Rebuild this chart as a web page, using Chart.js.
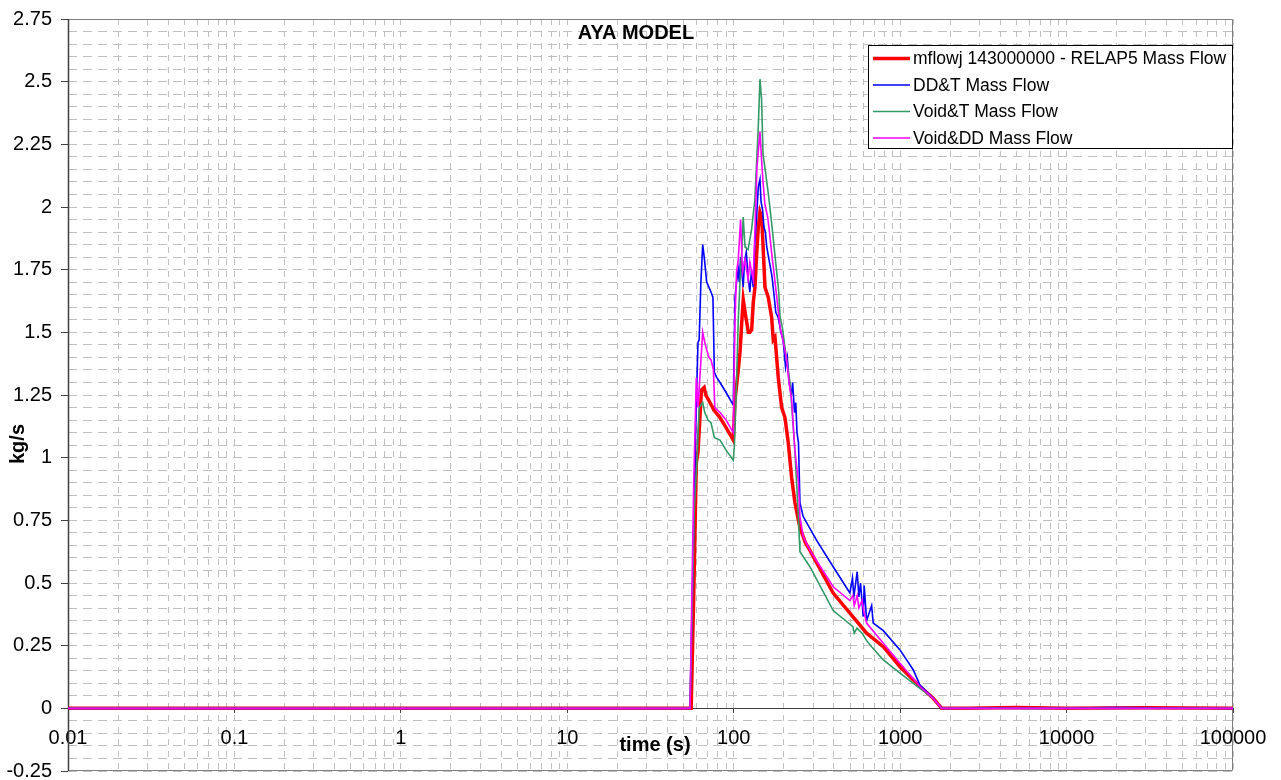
<!DOCTYPE html>
<html>
<head>
<meta charset="utf-8">
<script src="https://cdn.jsdelivr.net/npm/chart.js@4.4.1/dist/chart.umd.min.js"></script>
<style>
  html, body { margin: 0; padding: 0; background: #fff; }
</style>
</head>
<body>
<canvas id="chart" width="1281" height="780"></canvas>
<script>
var chartTitle = 'AYA MODEL';
var xTitle = 'time (s)';
var yTitle = 'kg/s';

var xDecades = [0.01, 0.1, 1, 10, 100, 1000, 10000, 100000];
var xDecadeLabels = ['0.01', '0.1', '1', '10', '100', '1000', '10000', '100000'];
var yMajorTicks = [-0.25, 0, 0.25, 0.5, 0.75, 1, 1.25, 1.5, 1.75, 2, 2.25, 2.5, 2.75];
var yMajorLabels = ['-0.25', '0', '0.25', '0.5', '0.75', '1', '1.25', '1.5', '1.75', '2', '2.25', '2.5', '2.75'];

var seriesLabels = [
    'mflowj 143000000 - RELAP5 Mass Flow',
    'DD&T Mass Flow',
    'Void&T Mass Flow',
    'Void&DD Mass Flow'
];

// RELAP5
var relapTime = [0.01, 55.5, 57.5, 59.6, 61, 62.5, 64, 66.4, 68, 72, 76, 82.7, 90, 99.4, 101.8, 106.5, 109.1, 112, 114.1, 117,
    119.7, 122.4, 125, 128.2, 131.1, 134.2, 137, 140.5, 143.8, 147.2, 150, 154.1, 161.3, 165, 169, 172.8, 177, 185.2, 194.1, 203.2,
    212.7, 222.9, 233.3, 250, 270, 287, 340, 396, 499, 629, 792, 998, 1315, 1581, 1776, 2500, 5000, 10000, 30000, 100000];
var relapFlow = [0, 0, 0.45, 0.98, 1.02, 1.15, 1.27, 1.28, 1.25, 1.22, 1.19, 1.16, 1.12, 1.07, 1.23, 1.35, 1.42, 1.55, 1.63, 1.58,
    1.54, 1.50, 1.50, 1.51, 1.62, 1.68, 1.80, 1.92, 1.98, 1.96, 1.85, 1.68, 1.64, 1.60, 1.56, 1.47, 1.48, 1.32, 1.20, 1.16,
    1.06, 0.92, 0.82, 0.72, 0.66, 0.63, 0.54, 0.46, 0.38, 0.30, 0.246, 0.166, 0.087, 0.04, 0, 0, 0.003, 0, 0.002, 0];

// DD&T
var ddtTime = [0.01, 54.6, 57, 59.5, 61, 62, 63.5, 65.1, 66.5, 68.8, 71, 73.1, 75, 76.5, 79, 82.7, 90, 99.4, 101.8, 104,
    106.5, 108, 110, 112, 114, 116, 119, 122, 125, 128, 131, 134, 137, 140.5, 143.8, 146, 149, 152, 155, 158,
    163, 166, 170, 174, 179, 185, 192, 198, 205, 210, 215, 222, 226, 232, 236, 240, 245, 250, 261.5, 315,
    396, 499, 517, 527, 552, 565, 578, 600, 608, 629, 674, 689, 792, 998, 1200, 1315, 1581, 1776, 3000, 6000, 20000, 100000];
var ddtFlow = [0, 0, 0.6, 1.2, 1.46, 1.47, 1.70, 1.85, 1.80, 1.70, 1.68, 1.66, 1.64, 1.34, 1.32, 1.30, 1.26, 1.21, 1.64, 1.70,
    1.75, 1.70, 1.80, 1.74, 1.68, 1.78, 1.82, 1.72, 1.66, 1.75, 1.68, 1.86, 1.95, 2.08, 2.11, 2.02, 1.99, 1.92, 1.90, 1.84,
    1.79, 1.76, 1.72, 1.66, 1.58, 1.56, 1.50, 1.47, 1.36, 1.40, 1.30, 1.25, 1.30, 1.18, 1.22, 1.10, 1.06, 0.82, 0.765, 0.67,
    0.565, 0.46, 0.52, 0.445, 0.545, 0.445, 0.50, 0.366, 0.49, 0.35, 0.41, 0.34, 0.31, 0.233, 0.153, 0.093, 0.04, 0, 0.002, 0, 0.003, 0];

// Void&T
var voidtTime = [0.01, 54.6, 58, 60.5, 62, 65.1, 67, 70, 73, 76.5, 82.7, 90, 99.4, 101, 104, 106.5, 110, 112, 114, 117,
    122, 128, 134, 140.5, 143.8, 147, 150, 156, 163, 170, 178, 186, 190, 196, 205, 218, 233, 245, 248, 250,
    287, 396, 520, 530, 550, 590, 629, 674, 792, 998, 1315, 1581, 1776, 4000, 100000];
var voidtFlow = [0, 0, 0.8, 1.02, 1.20, 1.22, 1.18, 1.15, 1.14, 1.08, 1.07, 1.03, 0.99, 1.05, 1.30, 1.55, 1.75, 1.83, 1.96, 1.84,
    1.83, 1.91, 2.03, 2.32, 2.51, 2.43, 2.21, 2.13, 2.03, 1.92, 1.79, 1.67, 1.56, 1.52, 1.42, 1.30, 1.03, 0.76, 0.67, 0.625,
    0.565, 0.39, 0.326, 0.30, 0.32, 0.30, 0.27, 0.246, 0.193, 0.14, 0.08, 0.04, 0, 0, 0];

// Void&DD
var voidddTime = [0.01, 54.6, 57.5, 59.6, 61, 63, 65.1, 67, 68.8, 71, 73.1, 75.5, 77, 82.7, 90, 99.4, 101.8, 104, 106.5, 110,
    113, 117, 122, 125, 131, 134, 138, 143.8, 147, 150, 154, 160, 164, 170, 173, 180, 190, 200, 208, 215,
    223, 233, 245, 250, 261.5, 287, 396, 499, 520, 530, 552, 565, 590, 608, 629, 792, 998, 1315, 1581, 1776, 8000, 100000];
var voidddFlow = [0, 0, 0.9, 1.32, 1.20, 1.35, 1.50, 1.46, 1.43, 1.40, 1.39, 1.35, 1.20, 1.18, 1.15, 1.10, 1.55, 1.74, 1.79, 1.95,
    1.74, 1.79, 1.71, 1.78, 1.71, 1.90, 2.16, 2.30, 2.19, 2.10, 2.01, 1.96, 1.90, 1.80, 1.76, 1.66, 1.52, 1.45, 1.39, 1.30,
    1.23, 1.03, 0.90, 0.765, 0.685, 0.63, 0.485, 0.43, 0.45, 0.41, 0.45, 0.40, 0.43, 0.38, 0.34, 0.26, 0.18, 0.087, 0.04, 0, 0, 0];

var fontFamily = "'Liberation Sans', Arial, sans-serif";
Chart.defaults.font.family = fontFamily;

function toPoints(times, flows) {
    return times.map(function(t, i) { return { x: t, y: flows[i] }; });
}

// minor grid: 1..9 per decade, 0.05 steps on y
var xGridValues = [];
xDecades.forEach(function(d, i) {
    if (i == xDecades.length - 1) { xGridValues.push(d); return; }
    for (var k = 1; k < 10; k++) xGridValues.push(+(d * k).toPrecision(6));
});
var yGridValues = [];
yMajorTicks.forEach(function(v, i) {
    if (i == yMajorTicks.length - 1) { yGridValues.push(v); return; }
    for (var k = 0; k < 5; k++) yGridValues.push(+(v + k * 0.05).toFixed(2));
});

function isXMajor(v) { return xDecades.some(function(d) { return Math.abs(d - v) / d < 1e-6; }); }
function isYMajor(v) { return yMajorTicks.some(function(d) { return Math.abs(d - v) < 1e-6; }); }

var frame = {
    id: 'frame',
    beforeDatasetsDraw: function(chart) {
        var ctx = chart.ctx, a = chart.chartArea;
        var y0 = Math.round(chart.scales.y.getPixelForValue(0)) + 0.5;
        ctx.save();
        ctx.lineWidth = 1;
        ctx.strokeStyle = '#808080';
        ctx.beginPath();
        ctx.moveTo(a.left, a.top + 0.5); ctx.lineTo(a.right - 0.5, a.top + 0.5);
        ctx.lineTo(a.right - 0.5, a.bottom - 0.5); ctx.lineTo(a.left, a.bottom - 0.5);
        ctx.stroke();
        ctx.strokeStyle = '#404040';
        ctx.lineWidth = 1.5;
        ctx.beginPath();
        ctx.moveTo(a.left + 0.5, a.top); ctx.lineTo(a.left + 0.5, a.bottom);
        ctx.stroke();
        ctx.lineWidth = 1;
        ctx.beginPath();
        ctx.moveTo(a.left, y0); ctx.lineTo(a.right, y0);
        ctx.stroke();
        ctx.restore();
    },
    afterDraw: function(chart) {
        var ctx = chart.ctx;
        ctx.save();
        ctx.fillStyle = '#000';
        ctx.textAlign = 'center';
        ctx.textBaseline = 'middle';
        ctx.font = 'bold 20px ' + fontFamily;
        ctx.fillText(chartTitle, 636, 33);
        ctx.fillText(xTitle, 655, 745);
        ctx.save();
        ctx.translate(18, 444);
        ctx.rotate(-Math.PI / 2);
        ctx.fillText(yTitle, 0, 0);
        ctx.restore();

        // legend box
        var bx = 868, by = 45, bw = 365, bh = 104;
        ctx.fillStyle = '#fff';
        ctx.fillRect(bx, by, bw, bh);
        ctx.strokeStyle = '#000';
        ctx.lineWidth = 1;
        ctx.strokeRect(bx + 0.5, by + 0.5, bw - 1, bh - 1);
        ctx.font = '17.5px ' + fontFamily;
        ctx.textAlign = 'left';
        chart.data.datasets.forEach(function(ds, i) {
            var yy = 58.5 + i * 26.5;
            ctx.strokeStyle = ds.borderColor;
            ctx.lineWidth = ds.borderWidth;
            ctx.beginPath();
            ctx.moveTo(873, yy); ctx.lineTo(910, yy);
            ctx.stroke();
            ctx.fillStyle = '#000';
            ctx.fillText(ds.label, 913, yy + 1);
        });
        ctx.restore();
    }
};

var datasets = [
    { label: seriesLabels[0], data: toPoints(relapTime, relapFlow), borderColor: '#ff0000', borderWidth: 3.5, order: 4 },
    { label: seriesLabels[1], data: toPoints(ddtTime, ddtFlow), borderColor: '#0000ff', borderWidth: 1.6, order: 3 },
    { label: seriesLabels[2], data: toPoints(voidtTime, voidtFlow), borderColor: '#339966', borderWidth: 1.6, order: 2 },
    { label: seriesLabels[3], data: toPoints(voidddTime, voidddFlow), borderColor: '#ff00ff', borderWidth: 1.6, order: 1 }
];

new Chart(document.getElementById('chart').getContext('2d'), {
    type: 'line',
    data: { datasets: datasets },
    options: {
        responsive: false,
        animation: false,
        layout: { padding: { top: 19, right: 48, bottom: 9, left: 0 } },
        elements: { point: { radius: 0 }, line: { tension: 0, fill: false } },
        plugins: { legend: { display: false }, title: { display: false }, tooltip: { enabled: false } },
        scales: {
            x: {
                type: 'logarithmic',
                min: 0.01,
                max: 100000,
                position: { y: 0 },
                afterBuildTicks: function(s) { s.ticks = xGridValues.map(function(v) { return { value: v }; }); },
                afterFit: function(s) { s.paddingLeft = 0; s.paddingRight = 0; s.paddingTop = 0; s.paddingBottom = 0; },
                ticks: {
                    autoSkip: false,
                    maxRotation: 0,
                    padding: 13,
                    color: '#000',
                    font: { size: 20 },
                    callback: function(v) {
                        var i = xDecades.findIndex(function(d) { return Math.abs(d - v) / d < 1e-6; });
                        return i >= 0 ? xDecadeLabels[i] : '';
                    }
                },
                grid: {
                    color: '#c0c0c0',
                    lineWidth: 1,
                    tickLength: 5,
                    tickColor: function(c) { return c.tick && isXMajor(c.tick.value) ? '#404040' : 'rgba(0,0,0,0)'; }
                },
                border: { display: false, dash: [6, 6] }
            },
            y: {
                min: -0.25,
                max: 2.75,
                afterBuildTicks: function(s) { s.ticks = yGridValues.map(function(v) { return { value: v }; }); },
                afterFit: function(s) { s.width = 68; s.paddingTop = 0; s.paddingBottom = 0; },
                ticks: {
                    autoSkip: false,
                    padding: 9,
                    color: '#000',
                    font: { size: 20 },
                    callback: function(v) {
                        var i = yMajorTicks.findIndex(function(d) { return Math.abs(d - v) < 1e-6; });
                        return i >= 0 ? yMajorLabels[i] : '';
                    }
                },
                grid: {
                    color: '#c0c0c0',
                    lineWidth: 1,
                    tickLength: 7,
                    tickColor: function(c) { return c.tick && isYMajor(c.tick.value) ? '#404040' : 'rgba(0,0,0,0)'; }
                },
                border: { display: false, dash: [9, 6] }
            }
        }
    },
    plugins: [frame]
});
</script>
</body>
</html>
